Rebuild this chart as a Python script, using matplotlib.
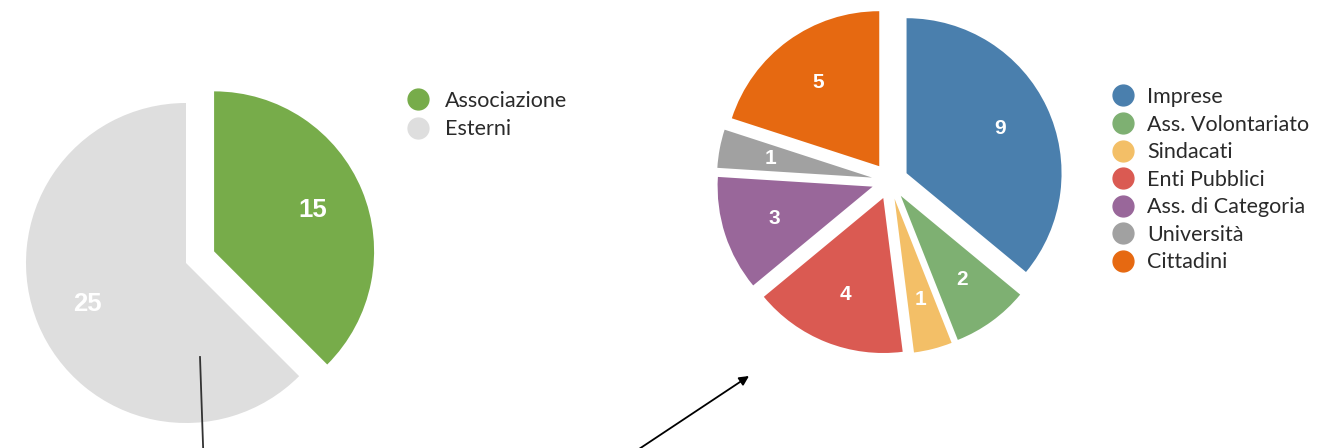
import matplotlib
matplotlib.use("Agg")
import matplotlib.pyplot as plt
from matplotlib.lines import Line2D

# dati: partecipanti per provenienza
gruppi = ["Associazione", "Esterni"]
gruppi_val = [15, 25]
gruppi_col = ["#77AC4A", "#DEDEDE"]

esterni = ["Imprese", "Ass. Volontariato", "Sindacati", "Enti Pubblici",
           "Ass. di Categoria", "Università", "Cittadini"]
esterni_val = [9, 2, 1, 4, 3, 1, 5]
esterni_col = ["#4A7FAD", "#7EB072", "#F3BF67", "#DA5A52",
               "#99679A", "#A1A1A1", "#E66911"]

W, H = 1342, 448
fig = plt.figure(figsize=(W / 100, H / 100), dpi=100)
ax = fig.add_axes([0, 0, 1, 1])

legend_font = dict(family=["Lato", "DejaVu Sans"], weight="normal", size=15.5)


def torta(valori, colori, centro, r, esplodi, fs):
    wedges, _, autotexts = ax.pie(
        valori, colors=colori, center=centro, radius=r,
        explode=[e * r for e in esplodi], startangle=90, counterclock=False,
        autopct=lambda p: "%d" % round(p * sum(valori) / 100),
        pctdistance=0.67, frame=False,
        textprops=dict(color="white", fontweight="bold", fontsize=fs,
                       family="Liberation Sans"))
    return wedges


torta(gruppi_val, gruppi_col, (186, H - 263), 160, [0.19, 0], 18.5)
torta(esterni_val, esterni_col, (890, H - 181), 155, [0.118] * 7, 15)


def legenda(labels, colori, pos, pad, sp):
    handles = [Line2D([], [], ls="none", marker="o", markersize=15,
                      markerfacecolor=c, markeredgecolor=c) for c in colori]
    leg = ax.legend(handles, labels, loc="upper left", bbox_to_anchor=pos,
                    bbox_transform=ax.transData, frameon=False,
                    prop=legend_font, handlelength=1.0, handletextpad=pad,
                    labelspacing=sp, borderpad=0, borderaxespad=0)
    for t in leg.get_texts():
        t.set_color("#2a2a2a")
    return leg


leg1 = legenda(gruppi, gruppi_col, (407, H - 91), 0.75, 0.39)
ax.add_artist(leg1)
legenda(esterni, esterni_col, (1112, H - 87), 0.62, 0.35)

# linee di collegamento
ax.plot([200, 203.2], [H - 357, -2], color="#333333", lw=1.3)
ax.annotate("", xy=(749, H - 376), xytext=(636, -3),
            arrowprops=dict(arrowstyle="-|>", color="black", lw=1.3,
                            mutation_scale=14, shrinkA=0, shrinkB=0))

ax.set_xlim(0, W)
ax.set_ylim(0, H)
ax.set_aspect("equal")
ax.set_axis_off()

fig.savefig("out.png", dpi=100)
